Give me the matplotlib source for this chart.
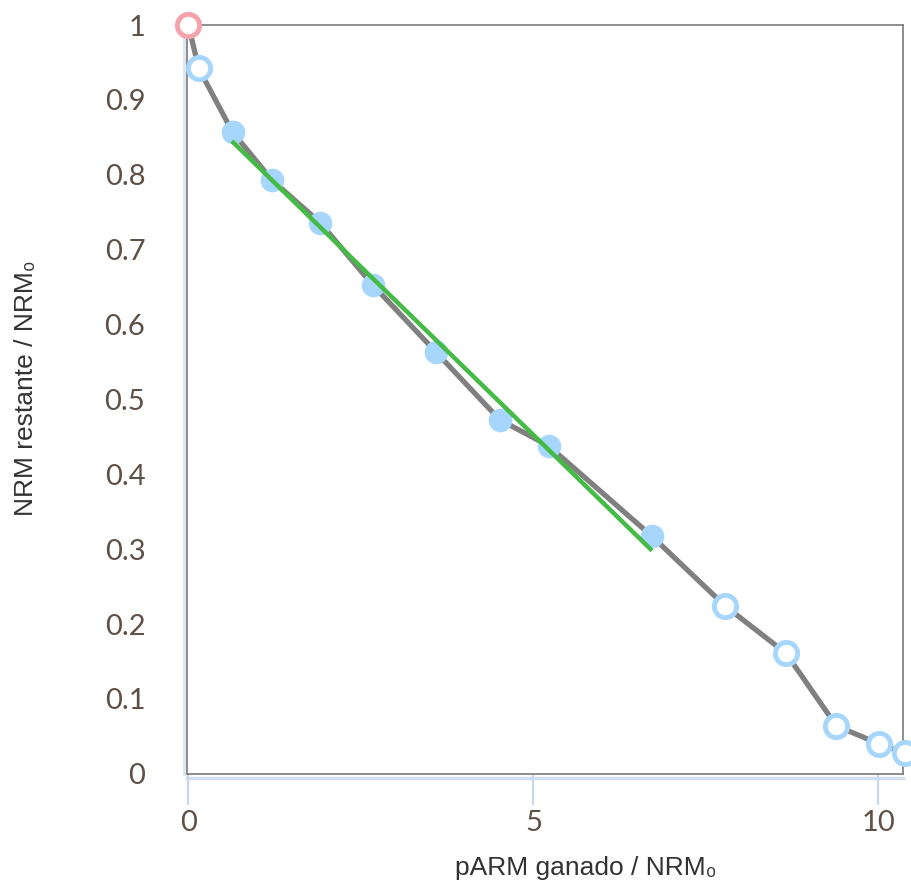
import matplotlib
matplotlib.use("Agg")
import matplotlib.pyplot as plt
import matplotlib.transforms as mtransforms

# Data
parm_gained = [0.0, 0.15, 0.64, 1.21, 1.91, 2.67, 3.59, 4.51, 5.22, 6.72, 7.78, 8.66, 9.39, 10.01, 10.38]
nrm_remaining = [1.0, 0.942, 0.857, 0.793, 0.736, 0.653, 0.563, 0.473, 0.438, 0.317, 0.224, 0.161, 0.064, 0.040, 0.0275]
# marker type per point: 'ref' (NRM0), 'open' (excluded), 'fit' (used in fit)
point_kind = ['ref', 'open', 'fit', 'fit', 'fit', 'fit', 'fit', 'fit', 'fit', 'fit',
              'open', 'open', 'open', 'open', 'open']
fit_x = [0.63, 6.72]
fit_y = [0.845, 0.298]
x_ticks = [0, 5, 10]
y_ticks = [0, 0.1, 0.2, 0.3, 0.4, 0.5, 0.6, 0.7, 0.8, 0.9, 1]
y_tick_labels = ['0', '0.1', '0.2', '0.3', '0.4', '0.5', '0.6', '0.7', '0.8', '0.9', '1']

W, H = 911, 885
fig = plt.figure(figsize=(W / 100, H / 100), dpi=100)
ax = fig.add_axes([187 / W, 1 - 773.8 / H, (903.3 - 187) / W, (773.8 - 25) / H])

ax.set_xlim(-0.02, 10.36)
ax.set_ylim(0, 1)

blue = '#a6d6fb'
ax.plot(parm_gained, nrm_remaining, color='#808080', lw=3.8, zorder=2, clip_on=False,
        solid_capstyle='round', solid_joinstyle='round')
ax.plot(fit_x, fit_y, color='#44bb44', lw=3.2, zorder=4, solid_capstyle='butt')

for x, y, k in zip(parm_gained, nrm_remaining, point_kind):
    if k == 'fit':
        ax.plot(x, y, 'o', ms=17, mfc=blue, mec=blue, mew=0, zorder=3, clip_on=False)
    elif k == 'open':
        ax.plot(x, y, 'o', ms=16, mfc='white', mec=blue, mew=3.5, zorder=3, clip_on=False)
    else:
        ax.plot(x, y, 'o', ms=16, mfc='white', mec='#f6a2aa', mew=3.5, zorder=5, clip_on=False)

for s in ax.spines.values():
    s.set_color('#7a7a7a')
    s.set_linewidth(1.2)

# light blue axis lines just outside the frame
off = mtransforms.offset_copy(ax.transAxes, fig=fig, x=0, y=-4, units='dots')
ax.plot([0, 1], [0, 0], transform=off, color='#d3deef', lw=2.5, clip_on=False, zorder=1)
offl = mtransforms.offset_copy(ax.transAxes, fig=fig, x=-3, y=0, units='dots')
ax.plot([0, 0], [0, 1], transform=offl, color='#dde5f2', lw=2, clip_on=False, zorder=1)

tick_color = '#5e5046'
ax.set_xticks(x_ticks)
ax.set_xticklabels([str(t) for t in x_ticks])
ax.set_yticks(y_ticks)
ax.set_yticklabels(y_tick_labels)
ax.tick_params(axis='x', length=22, width=1.6, color='#c9d7ec', pad=4,
               labelsize=21, labelcolor=tick_color)
ax.tick_params(axis='y', length=0, pad=30, labelsize=21, labelcolor=tick_color)
for lab in ax.get_xticklabels() + ax.get_yticklabels():
    lab.set_fontfamily(['Lato', 'DejaVu Sans'])

fig.text(586 / W, 1 - 868 / H, 'pARM ganado / NRM₀', ha='center', va='center',
         fontsize=19, color='#333333', family=['Liberation Sans', 'DejaVu Sans'])
fig.text(26 / W, 1 - 388 / H, 'NRM restante / NRM₀', ha='center', va='center',
         rotation=90, fontsize=19, color='#333333', family=['Liberation Sans', 'DejaVu Sans'])

fig.savefig('out.png', dpi=100)
